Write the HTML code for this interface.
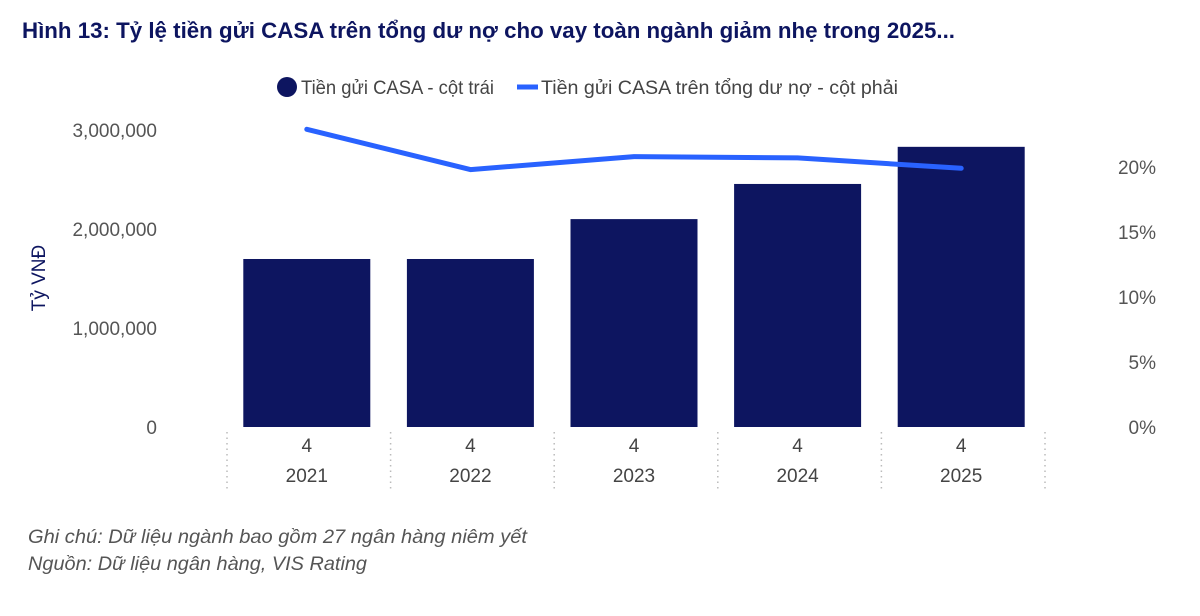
<!DOCTYPE html>
<html><head><meta charset="utf-8"><style>
body{margin:0;background:#fff;width:1200px;height:611px;overflow:hidden;font-family:"Liberation Sans",sans-serif}
</style></head><body>
<svg width="1200" height="611" font-family="Liberation Sans, sans-serif">
<text x="22" y="38" font-size="22" font-weight="bold" fill="#0d1560" textLength="933" lengthAdjust="spacingAndGlyphs">Hình 13: Tỷ lệ tiền gửi CASA trên tổng dư nợ cho vay toàn ngành giảm nhẹ trong 2025...</text>
<g>
<circle cx="287" cy="87" r="10" fill="#0d1560"/>
<text x="301" y="94" font-size="19" fill="#444" textLength="193" lengthAdjust="spacingAndGlyphs">Tiền gửi CASA - cột trái</text>
<line x1="517" y1="87" x2="538" y2="87" stroke="#2962ff" stroke-width="5"/>
<text x="541" y="94" font-size="19" fill="#444" textLength="357" lengthAdjust="spacingAndGlyphs">Tiền gửi CASA trên tổng dư nợ - cột phải</text>
</g>
<text transform="translate(45,278) rotate(-90)" text-anchor="middle" font-size="19" fill="#0d1560">Tỷ VNĐ</text>
<g id="g"></g>
<text x="28" y="543" font-size="19" font-style="italic" fill="#555" textLength="499" lengthAdjust="spacingAndGlyphs">Ghi chú: Dữ liệu ngành bao gồm 27 ngân hàng niêm yết</text>
<text x="28" y="570" font-size="19" font-style="italic" fill="#555" textLength="339" lengthAdjust="spacingAndGlyphs">Nguồn: Dữ liệu ngân hàng, VIS Rating</text>
</svg>
<script>
const years=["2021","2022","2023","2024","2025"];
const quarters=["4","4","4","4","4"];
const casa=[1697000,1697000,2100000,2455000,2830000];
const ratio=[22.9,19.8,20.8,20.7,19.9];
const leftTicks=[0,1000000,2000000,3000000];
const rightTicks=[0,5,10,15,20];
const NS="http://www.w3.org/2000/svg",g=document.getElementById('g');
const yL=v=>427-v/1000000*99, yR=v=>427-v*13;
const x0=225,step=163.6,xc=i=>x0+step*(i+0.5),bw=127;
function mk(t,a,txt){const e=document.createElementNS(NS,t);for(const k in a)e.setAttribute(k,a[k]);if(txt!=null)e.textContent=txt;g.appendChild(e);return e;}
leftTicks.forEach(v=>{const e=mk('text',{x:157,y:yL(v)+7,'text-anchor':'end','font-size':19,fill:'#555'},v.toLocaleString('en-US'));

});
rightTicks.forEach(v=>{const e=mk('text',{x:1156,y:yR(v)+7,'text-anchor':'end','font-size':19,fill:'#555'},v+'%');

});
for(let i=0;i<=years.length;i++){const e=mk('line',{x1:x0+2+step*i,x2:x0+2+step*i,y1:432,y2:490,stroke:'#bbb','stroke-width':1.5,'stroke-dasharray':'1.5,4'});

}
casa.forEach((v,i)=>{const b=mk('rect',{x:xc(i)-bw/2,y:yL(v),width:bw,height:427-yL(v),fill:'#0d1560'});


const q=mk('text',{x:xc(i),y:452,'text-anchor':'middle','font-size':19,fill:'#444'},quarters[i]);


const y=mk('text',{x:xc(i),y:482,'text-anchor':'middle','font-size':19,fill:'#444'},years[i]);

});
const p=mk('polyline',{points:ratio.map((v,i)=>xc(i)+','+yR(v)).join(' '),fill:'none',stroke:'#2962ff','stroke-width':5,'stroke-linecap':'round','stroke-linejoin':'round'});


</script>
</body></html>
